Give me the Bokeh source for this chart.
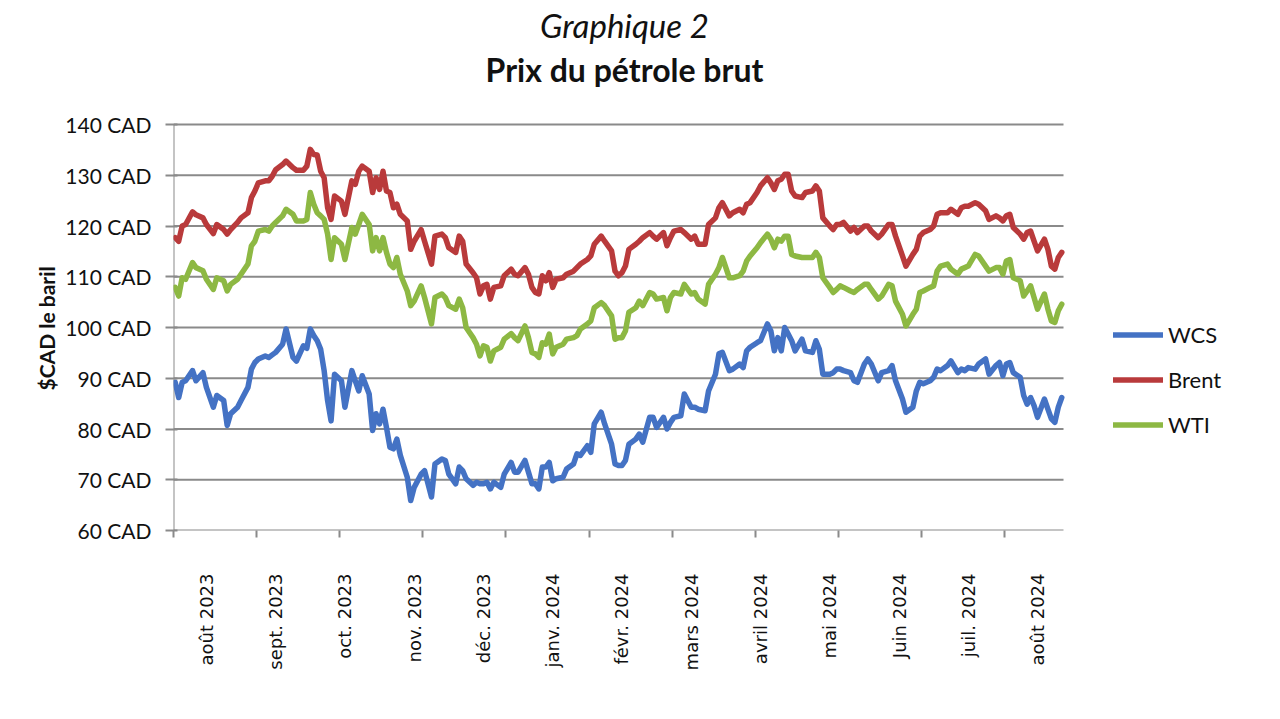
import math
from bokeh.plotting import figure
from bokeh.models import Range1d, FixedTicker, Legend, LegendItem, Title, Label
from bokeh.embed import file_html
from bokeh.resources import INLINE

# ---- data: trading-day index (0 = first session shown, late July 2023) ----
day = [0, 1, 2, 3, 5, 6, 8, 9, 11, 12, 14, 15, 16, 18, 19, 21, 22, 23, 24, 26,
       27, 28, 29, 31, 32, 34, 35, 37, 38, 39, 40, 41, 42, 43, 44, 45, 46, 48, 49, 51,
       52, 53, 54, 56, 57, 58, 59, 60, 61, 62, 63,
       64, 65, 67, 68, 69, 71, 72, 74, 75, 77, 78, 79, 81, 82, 83, 84, 86, 87, 88, 89,
       90, 91, 92, 94, 95, 97, 98, 99, 101, 102, 103, 104, 105, 106, 107, 108, 109, 110, 112, 113,
       115, 116, 117, 119, 120, 121, 123, 124, 126, 127, 128,
       129, 130, 131, 133, 134, 135, 137, 138, 139, 141, 142, 143, 144, 146, 147, 149, 150, 151, 153, 154,
       156, 157, 158, 160, 161, 163, 164, 165, 166, 168, 169, 171, 172, 173, 174, 175, 176, 177, 178, 179,
       181, 182, 184, 185, 186, 187, 189, 190, 191,
       192, 193, 195, 196, 197, 199, 200, 201, 203, 204, 206, 207, 208, 210, 211, 213, 214, 215, 216, 218,
       219, 220, 221, 223, 224, 226, 227, 228, 229, 231, 232, 234, 235, 237, 238, 239, 240, 241, 242, 244,
       245, 246, 247, 248, 249, 251, 252, 253, 254, 255, 256]

wcs = [89.2, 86.2, 89.2, 89.5, 91.5, 89.5, 91.1, 88.2, 84.3, 86.6, 85.6, 80.7, 83.0, 84.3, 85.6, 88.2, 91.8, 93.1, 93.8, 94.4,
       94.1, 94.6, 95.1, 96.7, 99.7, 94.1, 93.4, 96.4, 95.9, 99.7, 98.4, 97.4, 95.7, 91.5, 85.6, 81.6, 90.8, 89.5, 84.3, 91.5,
       89.5, 87.5, 90.5, 86.9, 79.7, 83.0, 81.0, 83.9, 80.3, 76.4, 76.1,
       78.0, 74.8, 70.5, 65.9, 68.5, 71.1, 71.8, 66.6, 73.1, 74.1, 73.8, 71.1, 69.2, 72.5, 71.8, 70.2, 68.9, 69.5, 69.2, 69.2,
       69.5, 68.2, 69.5, 68.5, 71.1, 73.4, 71.5, 71.5, 73.8, 71.5, 69.2, 69.2, 68.2, 72.5, 72.5, 73.4, 69.8, 70.2, 70.5, 72.1,
       73.1, 75.1, 74.8, 76.7, 75.4, 81.0, 83.3, 81.0, 77.0, 73.1, 72.8,
       72.8, 73.8, 77.0, 78.0, 79.0, 77.4, 82.3, 82.3, 80.3, 82.3, 80.0, 81.3, 82.3, 82.6, 86.9, 84.3, 84.3, 83.9, 83.6, 87.5,
       90.8, 94.8, 95.1, 91.5, 91.8, 92.8, 92.1, 95.4, 96.1, 97.0, 97.4, 100.7, 99.3, 95.4, 98.0, 95.4, 100.0, 98.7, 97.4, 95.4,
       97.7, 95.4, 95.1, 97.4, 95.7, 90.8, 90.8, 91.1, 91.8,
       91.8, 91.5, 91.1, 89.5, 89.2, 92.8, 93.8, 92.8, 89.5, 91.1, 91.5, 92.5, 89.5, 85.9, 83.3, 84.3, 87.5, 89.2, 88.9, 89.5,
       90.2, 91.8, 91.5, 92.5, 93.4, 91.1, 91.8, 91.5, 92.1, 91.8, 92.8, 93.8, 90.8, 92.5, 93.1, 90.5, 92.8, 93.1, 91.1, 90.2,
       86.6, 84.9, 86.2, 84.6, 82.3, 85.9, 83.9, 82.0, 81.3, 84.3, 86.2]

brent = [117.7, 117.0, 120.0, 120.3, 122.8, 122.2, 121.6, 120.3, 118.5, 120.3, 119.3, 118.4, 119.3, 120.7, 121.6, 122.6, 125.6, 126.9, 128.5, 128.9,
         128.9, 129.8, 131.1, 132.1, 132.8, 131.5, 131.0, 131.0, 131.8, 135.1, 134.1, 134.0, 130.8, 129.5, 123.6, 121.3, 125.9, 124.9, 122.3, 128.9,
         128.2, 130.8, 131.8, 130.8, 126.6, 129.5, 127.2, 130.8, 126.9, 126.6, 123.6,
         124.3, 122.3, 121.0, 115.4, 117.0, 119.3, 117.0, 112.5, 118.0, 118.4, 117.7, 115.7, 114.8, 118.0, 117.0, 112.5, 110.8, 109.8, 106.6, 108.2,
         108.5, 105.6, 107.9, 108.2, 110.2, 111.5, 110.5, 110.2, 111.8, 110.5, 107.9, 106.9, 106.6, 110.2, 109.2, 110.8, 107.9, 109.5, 109.8, 110.5,
         111.1, 111.8, 112.5, 113.4, 114.1, 116.4, 118.0, 117.0, 115.1, 111.1, 110.2,
         110.8, 112.1, 115.4, 116.4, 117.0, 117.7, 118.7, 118.0, 117.4, 118.7, 116.1, 117.7, 119.0, 119.3, 118.7, 117.4, 118.0, 116.4, 116.4, 120.3,
         121.6, 123.6, 124.6, 122.0, 122.6, 123.3, 122.6, 124.3, 124.6, 126.6, 127.9, 129.5, 128.5, 127.2, 128.9, 129.2, 130.2, 130.2, 126.9, 125.9,
         125.6, 126.6, 126.9, 127.9, 126.9, 121.6, 120.0, 119.3, 120.3,
         120.3, 120.7, 119.0, 119.7, 118.7, 120.0, 120.0, 119.0, 117.7, 118.4, 120.3, 120.3, 118.0, 114.1, 112.1, 114.4, 115.4, 118.0, 118.7, 119.3,
         120.0, 122.3, 122.6, 122.6, 123.3, 122.3, 123.6, 123.9, 123.9, 124.6, 124.3, 123.0, 121.3, 122.0, 121.6, 121.0, 122.0, 122.3, 119.7, 118.4,
         117.4, 118.7, 119.0, 117.0, 115.1, 117.4, 115.4, 112.1, 111.5, 113.8, 114.8]

wti = [107.9, 106.2, 109.8, 109.5, 112.8, 111.8, 111.2, 109.5, 107.5, 109.8, 109.2, 107.2, 108.5, 109.5, 110.5, 112.5, 116.1, 117.0, 119.0, 119.3,
       119.0, 120.0, 120.7, 122.0, 123.3, 122.3, 121.0, 121.0, 121.3, 126.6, 124.3, 122.6, 122.0, 121.3, 118.4, 113.4, 117.7, 116.4, 113.4, 119.7,
       118.4, 120.3, 122.3, 120.3, 115.1, 117.7, 115.1, 117.7, 114.8, 112.5, 111.8,
       113.8, 110.5, 107.2, 104.3, 105.2, 108.2, 105.9, 100.7, 105.9, 106.6, 105.9, 104.3, 103.6, 105.6, 103.9, 100.0, 98.0, 96.7, 94.4, 96.4,
       96.1, 93.4, 95.4, 96.1, 97.7, 98.8, 98.0, 97.4, 100.3, 98.0, 95.1, 94.8, 94.1, 97.0, 96.7, 98.7, 94.8, 96.1, 96.7, 97.7,
       98.0, 98.4, 99.7, 100.7, 101.3, 103.9, 104.9, 104.3, 102.3, 97.7, 98.0,
       98.0, 99.3, 103.0, 103.9, 105.2, 104.3, 106.9, 106.6, 105.6, 105.9, 103.3, 105.9, 106.9, 106.6, 108.5, 106.6, 106.9, 105.6, 104.6, 108.5,
       110.5, 111.8, 113.8, 109.8, 109.8, 110.2, 111.1, 113.1, 114.1, 115.7, 116.7, 118.4, 117.4, 115.7, 117.4, 117.0, 118.0, 118.0, 114.4, 114.1,
       113.8, 113.8, 113.8, 114.8, 113.8, 109.8, 107.9, 106.9, 107.5,
       108.2, 107.9, 107.2, 106.9, 107.5, 108.5, 108.5, 107.5, 105.6, 106.2, 108.5, 108.2, 105.2, 102.6, 100.3, 102.6, 103.6, 106.9, 107.2, 107.9,
       108.2, 111.1, 112.1, 112.5, 111.5, 110.5, 111.5, 111.8, 112.1, 114.4, 114.1, 112.1, 111.1, 111.8, 111.8, 110.5, 113.1, 113.4, 109.8, 109.2,
       106.2, 107.2, 108.2, 105.9, 103.6, 106.6, 103.6, 101.3, 101.0, 103.3, 104.6]

n_days = 257
y_min, y_max = 60, 140
y_ticks = [60, 70, 80, 90, 100, 110, 120, 130, 140]
y_tick_labels = ["60 CAD", "70 CAD", "80 CAD", "90 CAD", "100 CAD", "110 CAD", "120 CAD", "130 CAD", "140 CAD"]
month_label_days = [9, 29, 49, 69, 89, 109, 129, 149, 169, 189, 209, 229, 249]
month_labels = ["août 2023", "sept. 2023", "oct. 2023", "nov. 2023", "déc. 2023", "janv. 2024",
                "févr. 2024", "mars 2024", "avril 2024", "mai 2024", "Juin 2024", "juil. 2024", "août 2024"]
tick_mark_days = [-0.5, 23.5, 47.5, 71.5, 95.5, 119.5, 143.5, 167.5, 191.5, 215.5, 239.5]

series_names = ["WCS", "Brent", "WTI"]
series_colors = ["#4472C4", "#B93A3B", "#8DB843"]

# ---- layout (pixels) ----
W, H = 1280, 719
PLOT_L, PLOT_R, PLOT_T, PLOT_B = 173, 1063, 124, 530   # visible chart area
GRAY = "#8A8A8A"
INK = "#111111"

# the frame spans from the chart area up to the top and right edges of the page,
# so the titles and legend can live inside it
x_per_px = n_days / (PLOT_R - PLOT_L)
y_per_px = (y_max - y_min) / (PLOT_B - PLOT_T)
x0 = -0.5
x_end = x0 + (W - PLOT_L) * x_per_px
y_end = y_max + PLOT_T * y_per_px

p = figure(width=W, height=H, output_backend="svg", toolbar_location=None,
           x_range=Range1d(x0, x_end), y_range=Range1d(y_min, y_end),
           min_border_left=PLOT_L, min_border_right=0, min_border_top=0,
           min_border_bottom=H - PLOT_B)
p.outline_line_color = None
p.background_fill_color = "white"
p.border_fill_color = "white"
p.xgrid.visible = False
p.ygrid.visible = False

# horizontal gridlines and left axis line, limited to the chart area
last = n_days - 0.5
p.segment(x0=[x0] * len(y_ticks), x1=[last] * len(y_ticks), y0=y_ticks, y1=y_ticks,
          line_color=GRAY, line_width=2)
p.segment(x0=[x0], x1=[x0], y0=[y_min], y1=[y_max], line_color=GRAY, line_width=2)

# y axis
ya = p.yaxis[0]
ya.ticker = FixedTicker(ticks=y_ticks)
ya.major_label_overrides = {t: l for t, l in zip(y_ticks, y_tick_labels)}
ya.major_label_text_font = "Lato"
ya.major_label_text_font_size = "21px"
ya.major_label_text_color = INK
ya.major_label_standoff = 14
ya.major_tick_in = 4
ya.major_tick_out = 8
ya.major_tick_line_color = GRAY
ya.major_tick_line_width = 2
ya.minor_tick_line_color = None
ya.axis_line_color = None

# y axis title, placed along the chart area
p.add_layout(Title(text="$CAD le baril", align="left", offset=140, standoff=8,
                   text_font="Lato", text_font_style="bold", text_font_size="21px",
                   text_color=INK), "left")

# x axis
xa = p.xaxis[0]
xa.ticker = FixedTicker(ticks=month_label_days, minor_ticks=tick_mark_days)
xa.major_label_overrides = {d: l for d, l in zip(month_label_days, month_labels)}
xa.major_label_orientation = math.pi / 2
xa.major_label_text_font = "DejaVu Sans"
xa.major_label_text_font_size = "18px"
xa.major_label_text_color = INK
xa.major_label_standoff = 36
xa.major_tick_in = 0
xa.major_tick_out = 0
xa.minor_tick_in = 0
xa.minor_tick_out = 7
xa.minor_tick_line_color = GRAY
xa.minor_tick_line_width = 2
xa.axis_line_color = None

renderers = []
for vals, name, color in zip([wcs, brent, wti], series_names, series_colors):
    r = p.line(day, vals, line_color=color, line_width=5.5, line_join="round", line_cap="round")
    renderers.append(r)

legend = Legend(items=[LegendItem(label=n, renderers=[r]) for n, r in zip(series_names, renderers)],
                location=(1113 - PLOT_L, 92), orientation="vertical",
                glyph_width=50, glyph_height=27, label_height=27, spacing=18,
                padding=0, margin=0, label_standoff=5,
                label_text_font="Lato", label_text_font_size="22px", label_text_color=INK,
                border_line_color=None, background_fill_alpha=0)
p.add_layout(legend, "center")

# titles (screen units: from the frame's bottom-left corner)
p.add_layout(Label(x=624 - PLOT_L, y=PLOT_B - 24, x_units="screen", y_units="screen",
                   text="Graphique 2", text_font="Lato", text_font_style="italic",
                   text_font_size="33px", text_align="center", text_baseline="middle",
                   text_color=INK))
p.add_layout(Label(x=624 - PLOT_L, y=PLOT_B - 69, x_units="screen", y_units="screen",
                   text="Prix du pétrole brut", text_font="Lato", text_font_style="bold",
                   text_font_size="32px", text_align="center", text_baseline="middle",
                   text_color=INK))

open("out.html", "w").write(file_html(p, INLINE))
